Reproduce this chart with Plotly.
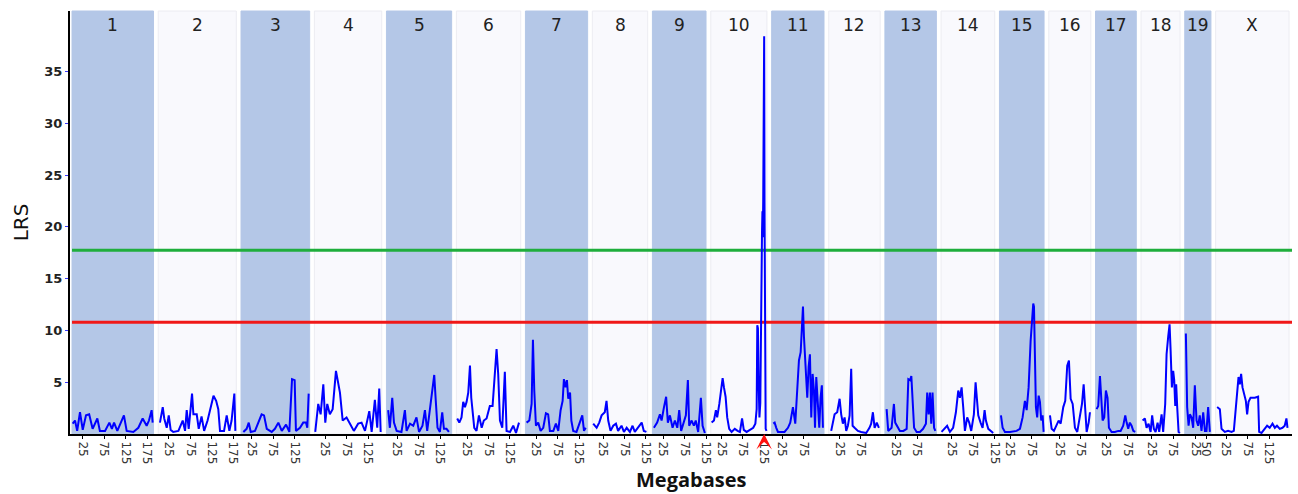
import plotly.graph_objects as go

# ---------------- data ----------------
chrom_names = ["1", "2", "3", "4", "5", "6", "7", "8", "9", "10",
               "11", "12", "13", "14", "15", "16", "17", "18", "19", "X"]
chrom_lengths = [190, 182, 160, 157, 152, 150, 145, 129, 125, 131,
                 122, 120, 120, 125, 104, 98, 95, 91, 61, 171]
chrom_ticks = [[25, 75, 125, 175], [25, 75, 125, 175], [25, 75, 125], [25, 75, 125],
               [25, 75, 125], [25, 75, 125], [25, 75, 125], [25, 75, 125],
               [25, 75, 125], [25, 75, 125], [25, 75], [25, 75], [25, 75],
               [25, 75, 125], [25, 75], [25, 75], [25, 75], [25, 75], [25, 50],
               [25, 75, 125]]
chrom_gap = 11

suggestive_lrs = 10.8
significant_lrs = 17.75
peak_chrom = "10"
peak_mb = 124.5

chr1_mb = [1.5, 7, 12, 18.6, 25, 32.6, 40, 48, 59, 65, 77, 87, 93, 98, 105.6, 121, 127.4, 143, 154.6, 164.7, 174, 179.4, 185.6, 188]
chr1_lrs = [1.0, 1.3, 0.3, 2.1, 0.4, 1.8, 1.9, 0.5, 1.5, 0.3, 0.3, 1.1, 0.5, 1.1, 0.3, 1.8, 0.3, 0.2, 0.6, 1.5, 0.8, 1.3, 2.3, 1.1]

chr2_mb = [4, 10.5, 14, 19.8, 24.5, 29, 35, 47, 57, 62.5, 66.4, 71, 78.8, 82, 89.7, 94.4, 101, 107, 115, 121, 128.8, 135, 140, 144, 153.4, 159.6, 165.8, 171, 177.4, 179.8]
chr2_lrs = [1.1, 2.6, 1.5, 0.6, 1.8, 0.4, 0.2, 0.3, 1.3, 0.3, 2.3, 0.5, 3.9, 1.9, 1.9, 0.5, 1.7, 0.3, 1.3, 2.3, 3.7, 3.2, 2.4, 0.3, 0.3, 1.8, 0.3, 1.3, 3.9, 0.3]

chr3_mb = [5.4, 13, 18, 22.6, 32.6, 40, 48, 53.6, 60, 71.5, 79, 87, 95, 105, 112.6, 118.9, 125, 128, 137.4, 145, 151.4, 154.5, 157.7]
chr3_lrs = [0.2, 0.5, 1.1, 0.2, 0.3, 1.1, 1.9, 1.8, 0.5, 0.2, 0.5, 1.1, 0.3, 0.9, 0.2, 5.3, 5.2, 0.3, 0.6, 1.1, 1.1, 0.6, 3.9]

chr4_mb = [2, 9, 14.6, 20.8, 25.4, 30, 36, 42.6, 50.3, 55, 59.6, 66, 75, 83, 92, 102, 110, 118, 128, 133.5, 141, 146.5, 151.2, 154.5]
chr4_lrs = [0.2, 2.9, 1.9, 4.8, 1.1, 2.9, 1.9, 2.4, 6.1, 4.8, 4.0, 1.3, 1.6, 1.0, 0.3, 1.0, 1.1, 0.3, 2.2, 0.2, 3.3, 0.6, 4.4, 0.2]

chr5_mb = [4, 8, 13.5, 17.5, 23.8, 35, 43, 47, 55, 62.5, 70, 76, 84, 89.7, 95, 103, 107.6, 111.4, 115, 119, 124.6, 130, 134, 140, 145.6]
chr5_lrs = [2.3, 0.6, 3.5, 1.1, 0.3, 0.2, 2.3, 0.3, 1.0, 0.8, 1.6, 0.2, 0.8, 2.3, 0.3, 2.9, 4.2, 5.7, 3.2, 0.6, 0.2, 2.1, 0.5, 0.5, 0.2]

chr6_mb = [2, 6.8, 12, 16, 20, 23.8, 27.7, 31.7, 34.7, 38, 41.7, 47, 52.6, 59, 64, 70.4, 78, 84.4, 88, 93.7, 97.5, 101.6, 107, 113, 117, 125, 132.6, 139, 146]
chr6_lrs = [1.5, 1.1, 1.6, 3.1, 2.6, 3.1, 4.0, 6.6, 3.5, 1.9, 0.6, 0.3, 1.8, 0.6, 1.3, 1.5, 2.7, 2.7, 4.7, 8.2, 5.8, 1.3, 0.6, 6.0, 0.3, 0.2, 0.8, 0.1, 1.1]

chr7_mb = [2.7, 9, 14.4, 17.5, 20.6, 24.5, 29.8, 35.4, 41.5, 47.8, 53, 57, 65, 71, 76.5, 82, 86.7, 89.7, 93.6, 96.7, 99.8, 104, 107, 111.4, 119, 127, 132.5, 136.5, 140.5]
chr7_lrs = [1.1, 1.3, 2.9, 9.1, 4.2, 0.8, 1.1, 0.3, 0.6, 2.0, 1.9, 0.3, 0.3, 1.0, 0.3, 2.3, 3.2, 5.3, 4.5, 5.2, 3.4, 4.0, 1.3, 0.3, 0.2, 1.1, 1.8, 0.3, 0.6]

chr8_mb = [2, 10, 16, 21.6, 29, 33, 37, 42.4, 48.7, 55, 60, 68, 73.6, 80, 87.6, 93.7, 99, 107, 115, 120, 126]
chr8_lrs = [1.0, 0.6, 1.1, 1.8, 2.1, 3.2, 1.3, 0.3, 0.8, 1.0, 0.3, 0.8, 0.2, 0.6, 0.2, 0.8, 0.2, 0.6, 1.1, 0.3, 0.2]

chr9_mb = [3.5, 11, 17.5, 21.4, 27, 32, 36, 40.8, 47, 52.4, 58, 62.5, 67, 73.4, 78, 82.7, 85.7, 91.4, 96.7, 101, 106.7, 113, 117, 122.3]
chr9_lrs = [0.6, 1.1, 1.9, 1.3, 2.6, 3.6, 1.1, 1.8, 0.6, 1.3, 0.6, 2.3, 0.3, 1.1, 1.8, 5.2, 0.8, 1.3, 0.8, 1.3, 0.2, 3.5, 0.8, 0.1]

chr10_mb = [2, 7.5, 12, 15, 20, 24, 27.7, 30.8, 34.6, 38.4, 43, 48.6, 56, 62.6, 68, 73, 77, 83.6, 91, 99, 104, 107, 108.5, 110, 111.6, 113.5, 115.5, 116.5, 118, 119.5, 120.5, 121.3, 122.3, 123.5, 124.5, 125.3, 126.3, 128, 130]
chr10_lrs = [1.1, 1.3, 2.3, 1.6, 2.9, 4.5, 5.4, 4.5, 3.6, 1.6, 0.5, 0.2, 0.5, 0.3, 0.2, 1.5, 0.4, 0.2, 0.4, 0.6, 1.0, 2.4, 10.5, 10.2, 5.0, 1.6, 3.0, 10.0, 12.0, 19.5, 21.5, 19.0, 22.5, 30.0, 38.4, 22.5, 3.0, 0.5, 0.3]

chr11_mb = [3.8, 7, 10.7, 14.7, 30, 38, 43.3, 49.6, 55, 59.6, 63.6, 67.6, 70.6, 73, 75.3, 77.6, 80.6, 83, 86.2, 89.2, 92.3, 95.5, 98.6, 101, 104, 108, 111, 114, 117, 119.5]
chr11_lrs = [1.0, 1.1, 0.6, 0.2, 0.2, 0.6, 1.1, 2.6, 1.0, 4.2, 7.1, 7.9, 10.0, 12.3, 9.4, 7.6, 5.5, 3.5, 6.5, 7.7, 1.6, 5.8, 4.2, 0.6, 5.5, 3.2, 0.6, 3.5, 4.7, 0.6]

chr12_mb = [5.8, 13.7, 19.8, 25.4, 29.1, 33, 37, 40.8, 44.7, 48.7, 52.4, 55.7, 60.3, 68, 75.7, 87.4, 95, 99, 103, 107, 112, 117]
chr12_lrs = [0.3, 1.9, 2.1, 3.4, 1.9, 1.0, 1.6, 0.3, 0.8, 1.8, 6.3, 0.8, 0.6, 0.3, 0.2, 0.1, 0.6, 1.0, 2.1, 0.6, 1.1, 0.6]

chr13_mb = [4, 7.7, 15.6, 21, 24, 28.6, 35, 43, 50.7, 54.6, 58.7, 61.6, 65, 68, 74, 81.6, 89, 95.6, 98.6, 102, 105, 108, 111, 114.6, 117.6]
chr13_lrs = [2.4, 0.3, 0.6, 2.9, 1.1, 0.8, 0.3, 0.3, 0.5, 5.3, 5.2, 5.6, 3.5, 0.6, 0.2, 0.2, 0.5, 1.0, 4.0, 1.9, 4.0, 1.0, 4.0, 0.6, 0.3]

chr14_mb = [1, 9, 14, 20.5, 28, 34.5, 40, 43.8, 47.8, 51.5, 55.5, 60.8, 65.5, 70.2, 76.4, 80.4, 83.5, 86.6, 92, 96.7, 101.4, 104.4, 110, 115.3, 121.5]
chr14_lrs = [0.2, 0.6, 0.8, 0.2, 0.6, 2.1, 4.2, 3.5, 4.5, 2.6, 0.3, 1.6, 1.1, 0.3, 1.9, 5.0, 3.5, 1.8, 1.1, 0.6, 2.3, 1.3, 0.5, 0.3, 0.1]

chr15_mb = [3.5, 7.4, 12.8, 24.5, 40, 47.8, 54, 59.4, 63.4, 68, 72.7, 75.7, 78.8, 80.5, 82, 85, 88, 91.4, 94.4, 97.4, 100.6, 103]
chr15_lrs = [1.8, 0.6, 0.2, 0.2, 0.3, 0.5, 1.6, 3.2, 2.3, 4.5, 9.0, 11.0, 12.6, 12.3, 9.7, 2.6, 1.6, 3.7, 3.1, 1.3, 1.8, 0.2]

chr16_mb = [2.8, 6.7, 12, 18.4, 23, 27.7, 33.8, 38.4, 43, 47, 51, 55.7, 61, 66.4, 72.7, 77.4, 81.3, 85, 88.3, 93, 96]
chr16_lrs = [1.8, 0.5, 0.3, 0.8, 1.3, 1.0, 2.6, 3.2, 6.6, 7.1, 3.4, 2.9, 0.6, 0.2, 1.6, 2.9, 4.8, 2.6, 0.2, 1.1, 2.1]

chr17_mb = [2.5, 6.3, 10.3, 13.3, 16.5, 20.3, 24.2, 28, 31.2, 37.5, 45, 53, 58.5, 64.5, 69.3, 72.5, 76.2, 80, 84, 88, 92.5]
chr17_lrs = [2.4, 2.7, 5.6, 2.9, 1.3, 1.6, 4.2, 3.5, 0.6, 0.2, 0.2, 0.3, 0.3, 0.8, 1.8, 1.1, 0.5, 1.1, 0.8, 0.3, 0.2]

chr18_mb = [3.7, 9, 13, 17.7, 22.4, 26, 30, 34, 38.7, 42.4, 48, 51.7, 56.4, 59.6, 63.4, 66.6, 69, 72, 75, 77.4, 79.8, 82, 84.4, 87.6, 90.6]
chr18_lrs = [1.3, 1.5, 0.6, 1.0, 0.2, 1.8, 0.5, 0.2, 1.1, 0.2, 1.9, 0.2, 2.9, 7.7, 9.4, 10.6, 8.1, 4.5, 6.1, 5.2, 2.7, 4.8, 2.6, 0.2, 0.1]

chr19_mb = [2.6, 5.6, 8.9, 12, 15.8, 19.6, 23.5, 27.5, 31.2, 35, 39, 43, 47, 50.7, 54.5, 58.5]
chr19_lrs = [9.7, 2.6, 0.8, 1.9, 1.6, 0.6, 4.7, 1.3, 0.8, 1.8, 0.3, 2.1, 0.3, 0.3, 2.6, 0.2]

chrX_mb = [3.5, 9.8, 13.7, 21.4, 29, 37, 42.4, 47, 50, 53.3, 56.4, 59.4, 62.6, 67, 70.4, 73.4, 76.7, 81.3, 91.3, 99, 101.4, 107, 114.6, 120, 126, 132.6, 138, 143, 149.6, 155.7, 161, 165, 167.5]
chrX_lrs = [2.6, 2.4, 0.5, 0.2, 0.3, 0.2, 0.3, 2.3, 4.2, 5.5, 4.8, 5.8, 4.5, 3.9, 3.2, 1.9, 3.1, 3.5, 3.5, 3.6, 0.2, 0.1, 0.5, 0.8, 0.6, 1.0, 0.6, 0.8, 0.5, 0.6, 0.8, 1.5, 0.6]

all_mb = [chr1_mb, chr2_mb, chr3_mb, chr4_mb, chr5_mb, chr6_mb, chr7_mb, chr8_mb, chr9_mb, chr10_mb,
          chr11_mb, chr12_mb, chr13_mb, chr14_mb, chr15_mb, chr16_mb, chr17_mb, chr18_mb, chr19_mb, chrX_mb]
all_lrs = [chr1_lrs, chr2_lrs, chr3_lrs, chr4_lrs, chr5_lrs, chr6_lrs, chr7_lrs, chr8_lrs, chr9_lrs, chr10_lrs,
           chr11_lrs, chr12_lrs, chr13_lrs, chr14_lrs, chr15_lrs, chr16_lrs, chr17_lrs, chr18_lrs, chr19_lrs, chrX_lrs]

# ---------------- build ----------------
offsets = []
acc = 0
for L in chrom_lengths:
    offsets.append(acc)
    acc += L + chrom_gap

xs, ys = [], []
for i in range(len(chrom_names)):
    xs += [offsets[i] + m for m in all_mb[i]] + [None]
    ys += list(all_lrs[i]) + [None]

tickvals, ticktext = [], []
for i, ts in enumerate(chrom_ticks):
    for t in ts:
        tickvals.append(offsets[i] + t)
        ticktext.append(str(t))

BLUE_BAND = "#b4c7e7"
PALE_BAND = "#f9f9fd"

shapes = []
for i, L in enumerate(chrom_lengths):
    odd = (i % 2 == 0)
    shapes.append(dict(type="rect", xref="x", yref="paper",
                       x0=offsets[i], x1=offsets[i] + L, y0=0, y1=1,
                       fillcolor=BLUE_BAND if odd else PALE_BAND,
                       line=dict(width=1, color=BLUE_BAND if odd else "#ececf2"),
                       layer="below"))
for val, col in [(significant_lrs, "#1fae3c"), (suggestive_lrs, "#f01818")]:
    shapes.append(dict(type="line", xref="x", yref="y", x0=0, x1=2844,
                       y0=val, y1=val, line=dict(color=col, width=3), layer="below"))

annotations = []
for i, name in enumerate(chrom_names):
    annotations.append(dict(x=offsets[i] + chrom_lengths[i] / 2, y=1, xref="x", yref="paper",
                            yanchor="top", yshift=-2, showarrow=False, text=name,
                            font=dict(family="DejaVu Sans", size=17, color="#222222")))
annotations.append(dict(x=0.509, y=-0.108, xref="paper", yref="paper", showarrow=False,
                        text="<b>Megabases</b>", yanchor="middle",
                        font=dict(family="Open Sans", size=20, color="#111111")))

# peak marker: red triangle pointing up at the axis under the top LRS position
pk = chrom_names.index(peak_chrom)
annotations.append(dict(x=offsets[pk] + peak_mb, y=0, xref="x", yref="y",
                        text="", showarrow=True, ax=0, ay=8,
                        arrowhead=3, arrowsize=1.3, arrowwidth=2,
                        arrowcolor="#ff1010", standoff=0))

fig = go.Figure()
fig.add_trace(go.Scatter(x=xs, y=ys, mode="lines", connectgaps=False,
                         line=dict(color="#0000ff", width=2), hoverinfo="skip",
                         showlegend=False))

fig.update_layout(
    width=1298, height=494,
    margin=dict(l=70, r=6, t=11, b=60),
    paper_bgcolor="white", plot_bgcolor="white",
    shapes=shapes, annotations=annotations,
    xaxis=dict(range=[-4.7, 2844], tickvals=tickvals, ticktext=ticktext, tickangle=90,
               tickfont=dict(family="DejaVu Sans", size=12, color="#333333"),
               ticks="outside", ticklen=3, tickcolor="#000000",
               showline=True, linecolor="#000000", linewidth=2,
               showgrid=False, zeroline=False),
    yaxis=dict(range=[0, 40.85], tickvals=[5, 10, 15, 20, 25, 30, 35],
               tickfont=dict(family="DejaVu Sans", size=13, color="#222222", weight="bold"),
               ticks="outside", ticklen=3, tickcolor="#3a3aff",
               showline=True, linecolor="#000000", linewidth=2,
               showgrid=False, zeroline=False,
               title=dict(text="LRS", font=dict(family="DejaVu Sans", size=20, color="#111111"),
                          standoff=10)),
)

fig.write_html("out.html", config={"displayModeBar": False},
               post_script="document.body.style.margin='0';document.body.style.overflow='hidden';")
